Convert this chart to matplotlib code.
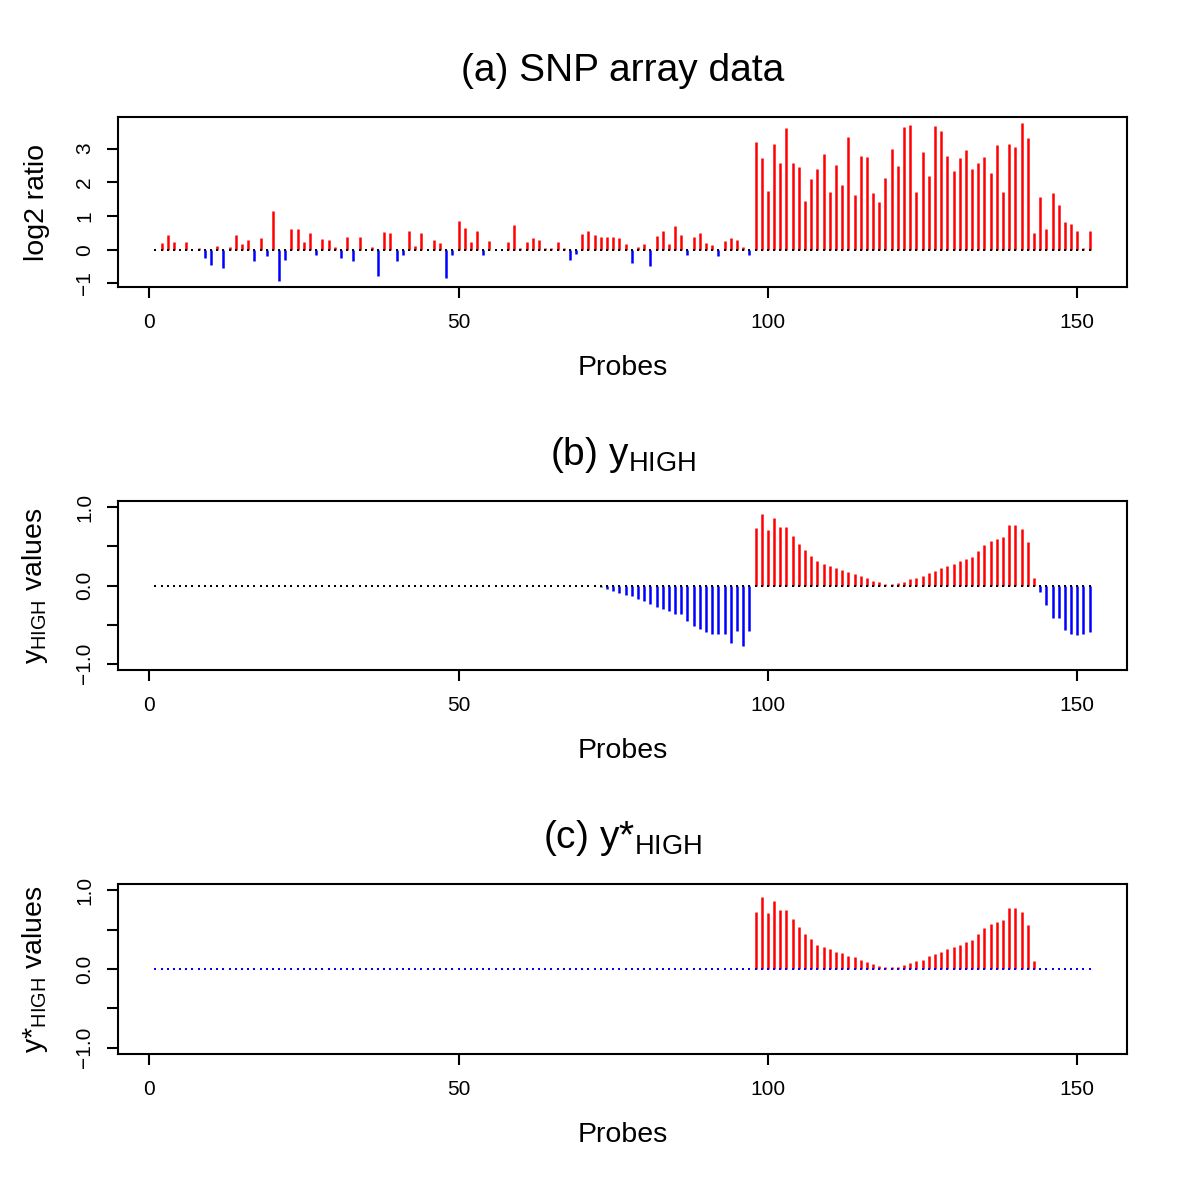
import numpy as np
import matplotlib
matplotlib.use("Agg")
import matplotlib.pyplot as plt

plt.rcParams['font.family'] = ['Liberation Sans', 'DejaVu Sans']
plt.rcParams['mathtext.fontset'] = 'custom'
plt.rcParams['mathtext.rm'] = 'Liberation Sans'
plt.rcParams['mathtext.it'] = 'Liberation Sans'

# probe index 1..152
probes = np.arange(1, 153)

# (a) log2 ratio per probe
log2_ratio = [
    0.0, 0.2, 0.43, 0.24, 0.0, 0.22, 0.0, 0.05, -0.25, -0.44,
    0.1, -0.55, 0.08, 0.45, 0.16, 0.3, -0.35, 0.35, -0.2, 1.15,
    -0.92, -0.3, 0.62, 0.62, 0.23, 0.51, -0.17, 0.33, 0.3, 0.09,
    -0.24, 0.38, -0.34, 0.39, 0.0, 0.08, -0.78, 0.53, 0.49, -0.34,
    -0.17, 0.54, 0.12, 0.49, 0.0, 0.29, 0.2, -0.83, -0.17, 0.84,
    0.64, 0.22, 0.54, -0.15, 0.26, 0.0, 0.0, 0.22, 0.72, 0.04,
    0.23, 0.35, 0.3, 0.05, 0.04, 0.23, 0.06, -0.31, -0.13, 0.46,
    0.54, 0.44, 0.38, 0.38, 0.38, 0.34, 0.16, -0.4, 0.07, 0.18,
    -0.48, 0.41, 0.54, 0.18, 0.69, 0.44, -0.15, 0.38, 0.5, 0.21,
    0.14, -0.2, 0.26, 0.36, 0.3, 0.09, -0.17, 3.19, 2.72, 1.75,
    3.14, 2.57, 3.62, 2.58, 2.45, 1.44, 2.1, 2.38, 2.83, 1.71,
    2.52, 1.92, 3.34, 1.63, 2.77, 2.76, 1.69, 1.41, 2.14, 2.98,
    2.49, 3.64, 3.7, 1.72, 2.9, 2.2, 3.66, 3.52, 2.78, 2.32,
    2.71, 2.96, 2.38, 2.58, 2.76, 2.28, 3.11, 1.71, 3.15, 3.04,
    3.75, 3.31, 0.49, 1.55, 0.62, 1.68, 1.32, 0.81, 0.76, 0.54,
    0.06, 0.56,
]

# (b) y_HIGH values
y_high = [0.0] * 72 + [
    -0.02, -0.05, -0.07, -0.1, -0.12, -0.14, -0.17, -0.2, -0.24, -0.27,
    -0.3, -0.33, -0.36, -0.37, -0.45, -0.52, -0.55, -0.6, -0.62, -0.62,
    -0.62, -0.73, -0.58, -0.77, -0.58,
    0.73, 0.92, 0.71, 0.86, 0.75, 0.75, 0.63, 0.53, 0.45, 0.38,
    0.31, 0.28, 0.25, 0.22, 0.2, 0.17, 0.15, 0.12, 0.09, 0.06,
    0.04, 0.02, 0.02, 0.03, 0.05, 0.08, 0.1, 0.12, 0.16, 0.19,
    0.22, 0.25, 0.28, 0.31, 0.34, 0.37, 0.44, 0.52, 0.57, 0.6,
    0.62, 0.77, 0.77, 0.72, 0.56, 0.1,
    -0.08, -0.25, -0.41, -0.42, -0.57, -0.62, -0.63, -0.62, -0.59,
]

# (c) y*_HIGH: only the positive part of y_HIGH is kept
y_star_high = np.clip(np.array(y_high), 0, None)

panels = [
    dict(vals=np.array(log2_ratio), title='(a) SNP array data', ylabel='log2 ratio',
         ylim=(-1.107, 3.937), yticks=[-1, 0, 1, 2, 3],
         yticklabels=['\u22121', '0', '1', '2', '3'], dots='black',
         rect=[118/1200, 910/1197, 1009/1200, 170/1197]),
    dict(vals=np.array(y_high), title='(b) y$_{\\mathregular{HIGH}}$',
         ylabel='y$_{\\mathregular{HIGH}}$ values',
         ylim=(-1.08, 1.08), yticks=[-1, -0.5, 0, 0.5, 1],
         yticklabels=['\u22121.0', '', '0.0', '', '1.0'], dots='black',
         rect=[118/1200, 527/1197, 1009/1200, 169/1197]),
    dict(vals=y_star_high, title='(c) y*$_{\\mathregular{HIGH}}$',
         ylabel='y*$_{\\mathregular{HIGH}}$ values',
         ylim=(-1.08, 1.08), yticks=[-1, -0.5, 0, 0.5, 1],
         yticklabels=['\u22121.0', '', '0.0', '', '1.0'], dots='blue',
         rect=[118/1200, 143/1197, 1009/1200, 170/1197]),
]

fig = plt.figure(figsize=(12, 11.97), dpi=100)

for p in panels:
    ax = fig.add_axes(p['rect'])
    v = p['vals']
    pos = v > 0
    neg = v < 0
    ax.vlines(probes[pos], 0, v[pos], color='red', lw=1.8)
    ax.vlines(probes[neg], 0, v[neg], color='blue', lw=1.8)
    ax.plot(probes, np.zeros(len(probes)), 's', ms=1.7, color=p['dots'], mew=0, zorder=3)

    ax.set_xlim(-5.04, 158.04)
    ax.set_ylim(*p['ylim'])
    ax.set_xticks([0, 50, 100, 150])
    ax.set_yticks(p['yticks'])
    ax.set_yticklabels(p['yticklabels'])
    for lbl in ax.get_yticklabels():
        lbl.set_rotation(90)
        lbl.set_va('center')

    ax.tick_params(direction='out', length=8, width=1.5, labelsize=15, pad=11)
    ax.tick_params(axis='y', pad=9)
    for s in ax.spines.values():
        s.set_linewidth(1.5)

    ax.set_title(p['title'], fontsize=28, pad=26)
    ax.set_xlabel('Probes', fontsize=20.5, labelpad=16)
    ax.set_ylabel(p['ylabel'], fontsize=20.5, labelpad=18)

fig.savefig('out.png', dpi=100)
